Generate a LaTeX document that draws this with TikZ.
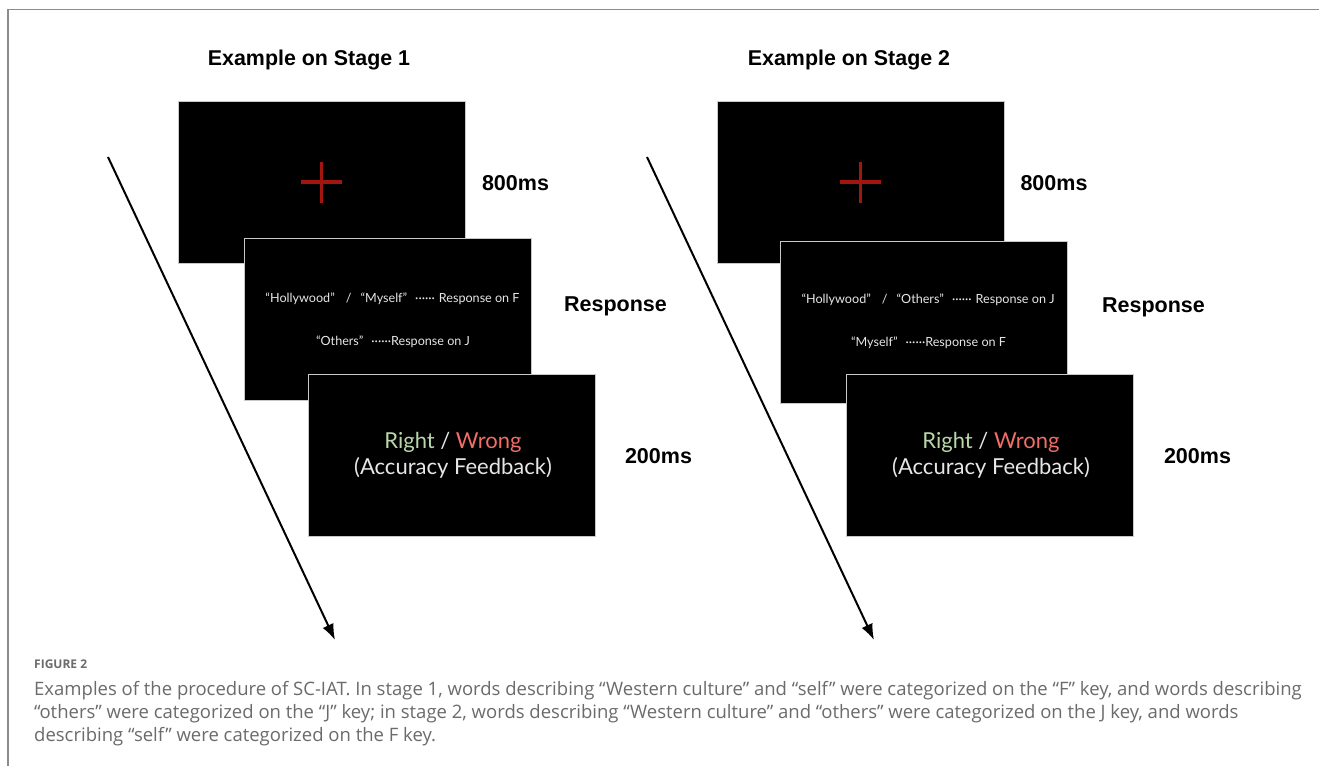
\documentclass[tikz,border=0pt]{standalone}
\usepackage{fontspec}
\setmainfont{Liberation Sans}
\newfontfamily\thinfont{Lato}
\newfontfamily\capfont{Open Sans}
\usetikzlibrary{arrows.meta}
\definecolor{crossred}{HTML}{A3150F}
\definecolor{rightgreen}{HTML}{B9D7A9}
\definecolor{wrongred}{HTML}{F06E66}
\definecolor{screentext}{HTML}{E6E6E6}
\definecolor{framegray}{HTML}{8C8C8C}
\definecolor{capgray}{HTML}{6B6B6B}
\tikzset{
  screen/.style={fill=black, draw={rgb,255:red,200;green,200;blue,200}, line width=1pt,
    minimum width=287pt, minimum height=162pt, inner sep=0pt, outer sep=0pt, anchor=north west},
  crossline/.style={draw=crossred, line width=3.6pt},
  timelabel/.style={font=\fontsize{21.5}{24}\selectfont\bfseries, text=black, inner sep=0pt},
  titlelabel/.style={font=\fontsize{21.4}{24}\selectfont\bfseries, text=black, inner sep=0pt},
  smalltext/.style={font=\thinfont\fontsize{12.6}{15}\selectfont, text=screentext, inner sep=0pt},
  bigtext/.style={font=\thinfont\fontsize{22}{26}\selectfont, text=screentext, inner sep=0pt},
  timearrow/.style={line width=2pt, -{Latex[length=16pt,width=12pt]}},
  framelines/.style={draw=framegray, line width=1.6pt},
  captext/.style={font=\capfont\fontsize{18.5}{21}\selectfont, text=capgray, inner sep=0pt, anchor=west},
  capbold/.style={font=\capfont\bfseries\fontsize{12}{15}\selectfont, text=capgray, inner sep=0pt, anchor=west}
}
\begin{document}
\begin{tikzpicture}[x=1pt,y=-1pt]
\useasboundingbox (0,0) rectangle (1319,766);
\fill[white] (0,0) rectangle (1319,766);
% frame
\coordinate (ftr) at (1319,9.5);
\coordinate (ftl) at (8,9.5);
\coordinate (fbl) at (8,766);
\draw[framelines] (ftr) -- (ftl) -- (fbl);

% ---------- Stage 1 ----------
\node[titlelabel] (t1) at (309,60) {Example on Stage 1};
\node[screen] (A1) at (178,101) {};
\draw[crossline] ([xshift=-20.5pt]A1.center) -- ([xshift=20.5pt]A1.center);
\draw[crossline] ([yshift=-20.5pt]A1.center) -- ([yshift=20.5pt]A1.center);
\node[timelabel] (m1) at (515.5,183) {800ms};

\node[screen] (B1) at (244,238) {};
\node[smalltext] (b1a) at (392.5,299) {“Hollywood”\hspace{11pt}/\hspace{9pt}“Myself”\hspace{8pt}······\hspace{4pt}Response on F};
\node[smalltext] (b1b) at (393,342) {“Others”\hspace{8pt}······Response on J};
\node[timelabel] (r1) at (615.5,306) {Response};

\node[screen] (C1) at (308,374) {};
\node[bigtext] (c1a) at (453,442) {\textcolor{rightgreen}{Right} / \textcolor{wrongred}{Wrong}};
\node[bigtext] (c1b) at (453,468) {(Accuracy Feedback)};
\node[timelabel] (s1) at (658.5,456) {200ms};

\coordinate (a1s) at (108,157);
\coordinate (a1e) at (335,640);
\draw[timearrow] (a1s) -- (a1e);

% ---------- Stage 2 ----------
\node[titlelabel] (t2) at (849,60) {Example on Stage 2};
\node[screen] (A2) at (717,101) {};
\draw[crossline] ([xshift=-20.5pt]A2.center) -- ([xshift=20.5pt]A2.center);
\draw[crossline] ([yshift=-20.5pt]A2.center) -- ([yshift=20.5pt]A2.center);
\node[timelabel] (m2) at (1054,183) {800ms};

\node[screen] (B2) at (780,241) {};
\node[smalltext] (b2a) at (928,300) {“Hollywood”\hspace{11pt}/\hspace{9pt}“Others”\hspace{8pt}······\hspace{4pt}Response on J};
\node[smalltext] (b2b) at (928.5,343) {“Myself”\hspace{8pt}······Response on F};
\node[timelabel] (r2) at (1153.5,307) {Response};

\node[screen] (C2) at (846,374) {};
\node[bigtext] (c2a) at (991,442) {\textcolor{rightgreen}{Right} / \textcolor{wrongred}{Wrong}};
\node[bigtext] (c2b) at (991,468) {(Accuracy Feedback)};
\node[timelabel] (s2) at (1197.5,456) {200ms};

\coordinate (a2s) at (647,157);
\coordinate (a2e) at (874,640);
\draw[timearrow] (a2s) -- (a2e);

% ---------- Caption ----------
\node[capbold] (fig) at (34,664) {FIGURE 2};
\node[captext] (cap1) at (34,691) {Examples of the procedure of SC-IAT. In stage 1, words describing “Western culture” and “self” were categorized on the “F” key, and words describing};
\node[captext] (cap2) at (34,714) {“others” were categorized on the “J” key; in stage 2, words describing “Western culture” and “others” were categorized on the J key, and words};
\node[captext] (cap3) at (34,737) {describing “self” were categorized on the F key.};
\end{tikzpicture}
\end{document}
